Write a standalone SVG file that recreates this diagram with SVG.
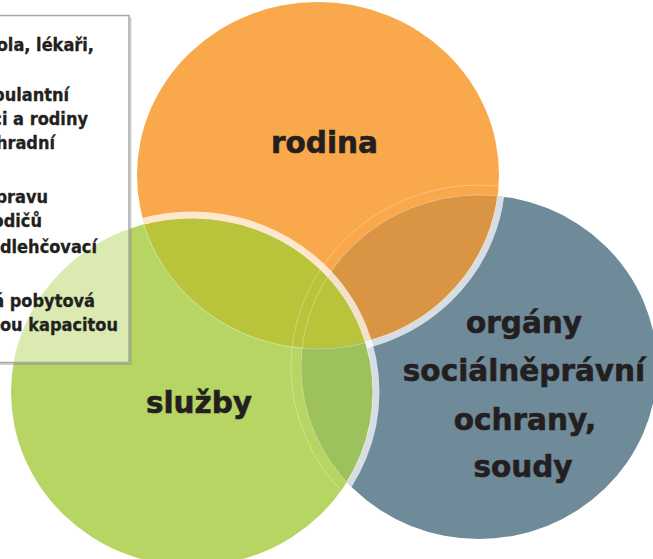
<svg xmlns="http://www.w3.org/2000/svg" width="653" height="559" viewBox="0 0 653 559">
<style>
.lbl{font-family:"DejaVu Sans",sans-serif;font-weight:bold;font-size:29.5px;fill:#231F20;stroke:#231F20;stroke-width:0.6;text-anchor:middle}
.bt{font-family:"DejaVu Sans Condensed","DejaVu Sans",sans-serif;font-stretch:condensed;font-weight:bold;font-size:18px;fill:#231F20;stroke:#231F20;stroke-width:0.3;text-anchor:end}
.band{fill:none;stroke:#fff;stroke-width:7;stroke-opacity:0.72}
.faint{fill:none;stroke:#fff;stroke-width:1;stroke-opacity:0.3}
</style>
<defs>
<ellipse id="eO" cx="318" cy="175" rx="181" ry="173"/>
<ellipse id="eG" cx="192" cy="392" rx="181" ry="174"/>
<ellipse id="eB" cx="479" cy="367" rx="178" ry="172"/>
<clipPath id="cO"><use href="#eO"/></clipPath>
<clipPath id="cG"><use href="#eG"/></clipPath>
<clipPath id="cB"><use href="#eB"/></clipPath>
<clipPath id="cOB"><use href="#eO"/><use href="#eB"/></clipPath>
<clipPath id="cOG"><use href="#eO"/><use href="#eG"/></clipPath>
</defs>

<g id="organy">
<use href="#eB" fill="#6F8A99"/>
</g>
<g id="rodina">
<use href="#eO" fill="#F9A84B"/>
</g>
<g id="sluzby">
<use href="#eG" fill="#B6D562"/>
</g>

<g id="overlaps">
<g clip-path="url(#cB)"><use href="#eO" fill="#D99544"/></g>
<g clip-path="url(#cB)"><ellipse class="band" cx="318" cy="175" rx="184" ry="176"/></g>
<g clip-path="url(#cB)"><use href="#eG" fill="#9DC15D"/></g>
<g clip-path="url(#cO)"><use href="#eG" fill="#BAC43B"/></g>
<g clip-path="url(#cOG)">
<ellipse class="faint" cx="479" cy="367" rx="178" ry="172"/>
<ellipse class="faint" cx="479" cy="367" rx="188" ry="182" stroke-opacity="0.22"/>
</g>
<g clip-path="url(#cG)"><ellipse class="faint" cx="318" cy="175" rx="182" ry="174"/></g>
<g clip-path="url(#cOB)"><ellipse class="band" cx="192" cy="392" rx="184" ry="177"/></g>
</g>

<g id="labels">
<text class="lbl" x="324.5" y="153">rodina</text>
<text class="lbl" x="199" y="413">služby</text>
<text class="lbl" x="524" y="333">orgány</text>
<text class="lbl" x="524" y="381">sociálněprávní</text>
<text class="lbl" x="525" y="430">ochrany,</text>
<text class="lbl" x="523" y="477">soudy</text>
</g>

<g id="box">
<path d="M130.5 17 V364 H-5" fill="none" stroke="#7a7a7a" stroke-opacity="0.35" stroke-width="2"/>
<rect x="-6" y="15.5" width="135" height="347" fill="#fff" fill-opacity="0.5" stroke="#A8A8A8" stroke-width="1.5"/>
<text class="bt" x="94" y="51">ola, lékaři,</text>
<text class="bt" x="69" y="101">bulantní</text>
<text class="bt" x="88" y="125">ci a rodiny</text>
<text class="bt" x="55" y="149">hradní</text>
<text class="bt" x="48" y="203">pravu</text>
<text class="bt" x="42" y="227">odičů</text>
<text class="bt" x="97" y="253">dlehčovací</text>
<text class="bt" x="95" y="307">á pobytová</text>
<text class="bt" x="118" y="331">ou kapacitou</text>
</g>
</svg>
